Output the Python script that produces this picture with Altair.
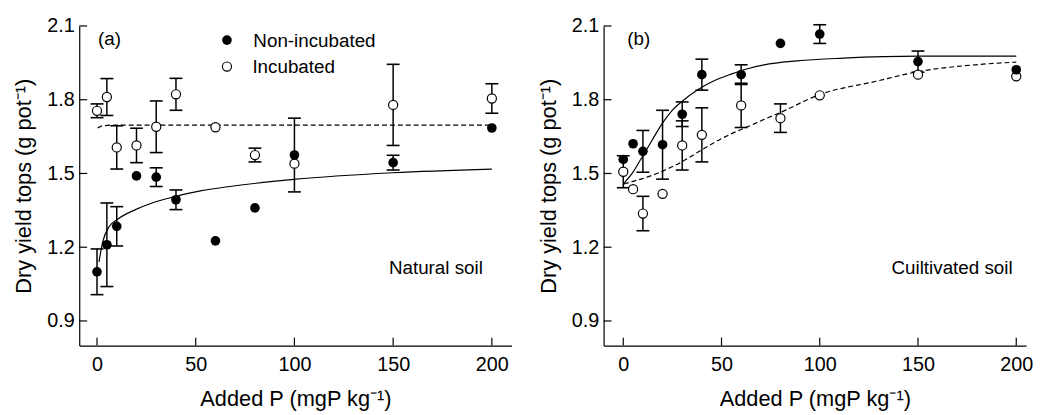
import altair as alt
import pandas as pd

FONT = "Liberation Sans"

# ---------------- data ----------------
added_p = [0, 5, 10, 20, 30, 40, 60, 80, 100, 150, 200]

# Panel (a) natural soil
a_non = [1.100, 1.210, 1.285, 1.490, 1.485, 1.393, 1.226, 1.360, 1.575, 1.544, 1.685]
a_non_err = [0.093, 0.170, 0.080, 0, 0.038, 0.040, 0, 0, 0.150, 0.030, 0]
a_inc = [1.755, 1.811, 1.606, 1.614, 1.690, 1.822, 1.688, 1.575, 1.540, 1.779, 1.805]
a_inc_err = [0.028, 0.075, 0.088, 0.070, 0.105, 0.065, 0, 0.028, 0, 0.165, 0.060]

a_fit_non_x = [1.0, 2.8, 6.2, 10.3, 19.5, 27.9, 39.6, 52.9, 66.3, 99.7, 149.9, 200]
a_fit_non_y = [1.140, 1.219, 1.284, 1.313, 1.353, 1.380, 1.406, 1.430, 1.446, 1.476, 1.503, 1.518]
a_fit_inc_x = [0.3, 2.8, 10, 50, 100, 150, 200]
a_fit_inc_y = [1.685, 1.694, 1.697, 1.697, 1.697, 1.697, 1.697]

# Panel (b) cultivated soil
b_non = [1.557, 1.621, 1.590, 1.617, 1.741, 1.902, 1.902, 2.029, 2.067, 1.955, 1.922]
b_non_err = [0, 0, 0.085, 0.140, 0.050, 0.063, 0.040, 0, 0.038, 0.043, 0]
b_inc = [1.507, 1.436, 1.337, 1.417, 1.614, 1.657, 1.777, 1.725, 1.818, 1.902, 1.895]
b_inc_err = [0.065, 0, 0.070, 0, 0.100, 0.110, 0.090, 0.058, 0, 0, 0]

b_fit_non_x = [0.35, 4.5, 9.6, 14.6, 19.6, 24.7, 29.7, 38.1, 46.5, 54.9, 63.3, 71.7, 88.4, 111.9, 150.5, 200]
b_fit_non_y = [1.460, 1.500, 1.567, 1.634, 1.701, 1.755, 1.792, 1.842, 1.878, 1.904, 1.926, 1.942, 1.958, 1.969, 1.977, 1.977]
b_fit_inc_x = [0.35, 4.5, 12.9, 21.3, 29.7, 38.1, 46.5, 54.9, 63.3, 71.7, 80, 99.3, 128.7, 150.5, 179, 200]
b_fit_inc_y = [1.457, 1.467, 1.487, 1.514, 1.547, 1.587, 1.627, 1.661, 1.690, 1.720, 1.748, 1.819, 1.875, 1.915, 1.942, 1.953]

x_ticks = [0, 50, 100, 150, 200]
y_ticks = [0.9, 1.2, 1.5, 1.8, 2.1]
series_labels = ["Non-incubated", "Incubated"]
panel_tags = ["(a)", "(b)"]
soil_labels = ["Natural soil", "Cuiltivated soil"]

X_TITLE = "Added P (mgP kg⁻¹)"
Y_TITLE = "Dry yield tops (g pot⁻¹)"

H = 323
Y_DOMAIN = [0.8, 2.1]
TXT = 19


def make_panel(y_non, e_non, y_inc, e_inc, fnx, fny, fix, fiy, xdom, width,
               tag, tag_x, soil, soil_x, legend):
    xs = alt.Scale(domain=xdom, nice=False, zero=False)
    ys = alt.Scale(domain=Y_DOMAIN, nice=False, zero=False)
    xaxis = alt.Axis(values=x_ticks, title=X_TITLE, format="d")
    yaxis = alt.Axis(values=y_ticks, title=Y_TITLE, format=".1f")

    def X(field="x"):
        return alt.X(f"{field}:Q", scale=xs, axis=xaxis)

    def Y(field="y"):
        return alt.Y(f"{field}:Q", scale=ys, axis=yaxis)

    pts_non = pd.DataFrame({"x": added_p, "y": y_non, "e": e_non})
    pts_inc = pd.DataFrame({"x": added_p, "y": y_inc, "e": e_inc})
    err = pd.concat([pts_non, pts_inc], ignore_index=True)
    err = err[err["e"] > 0].copy()
    err["lo"] = err["y"] - err["e"]
    err["hi"] = err["y"] + err["e"]

    stems = alt.Chart(err).mark_rule(color="black", strokeWidth=1.5).encode(
        x=X(), y=Y("lo"), y2="hi:Q")
    cap_lo = alt.Chart(err).mark_tick(orient="horizontal", size=13, thickness=1.6,
                                      color="black", opacity=1).encode(x=X(), y=Y("lo"))
    cap_hi = alt.Chart(err).mark_tick(orient="horizontal", size=13, thickness=1.6,
                                      color="black", opacity=1).encode(x=X(), y=Y("hi"))

    fit_non = alt.Chart(pd.DataFrame({"x": fnx, "y": fny})).mark_line(
        color="black", strokeWidth=1.2, interpolate="monotone").encode(x=X(), y=Y())
    fit_inc = alt.Chart(pd.DataFrame({"x": fix, "y": fiy})).mark_line(
        color="black", strokeWidth=1.2, strokeDash=[5, 3], interpolate="monotone").encode(x=X(), y=Y())

    open_pts = alt.Chart(pts_inc).mark_point(
        shape="circle", size=85, filled=True, fill="white", stroke="black",
        strokeWidth=1.2, opacity=1).encode(x=X(), y=Y())
    filled_pts = alt.Chart(pts_non).mark_circle(size=95, color="black", opacity=1).encode(x=X(), y=Y())

    xt = alt.Chart(pd.DataFrame({"x": x_ticks})).mark_rule(color="black", strokeWidth=1.2).encode(
        x=X(), y=alt.value(H), y2=alt.value(H - 8))
    yt = alt.Chart(pd.DataFrame({"y": y_ticks})).mark_rule(color="black", strokeWidth=1.2).encode(
        y=Y(), x=alt.value(0), x2=alt.value(8))

    one = pd.DataFrame({"k": [0]})
    tag_t = alt.Chart(one).mark_text(align="left", baseline="middle", font=FONT, fontSize=TXT,
                                     color="black").encode(
        x=alt.value(tag_x), y=alt.value(13.5), text=alt.value(tag))
    soil_t = alt.Chart(one).mark_text(align="left", baseline="middle", font=FONT, fontSize=TXT,
                                      color="black").encode(
        x=alt.value(soil_x), y=alt.value(244.5), text=alt.value(soil))

    layers = [stems, cap_lo, cap_hi, fit_non, fit_inc, open_pts, filled_pts, xt, yt, tag_t, soil_t]

    if legend:
        lg1 = alt.Chart(one).mark_circle(size=95, color="black", opacity=1).encode(
            x=alt.value(149.3), y=alt.value(14.3))
        lg2 = alt.Chart(one).mark_point(shape="circle", size=85, filled=True, fill="white",
                                        stroke="black", strokeWidth=1.2, opacity=1).encode(
            x=alt.value(149.3), y=alt.value(41))
        lt1 = alt.Chart(one).mark_text(align="left", baseline="middle", font=FONT, fontSize=TXT,
                                       color="black").encode(
            x=alt.value(176), y=alt.value(15), text=alt.value(series_labels[0]))
        lt2 = alt.Chart(one).mark_text(align="left", baseline="middle", font=FONT, fontSize=TXT,
                                       color="black").encode(
            x=alt.value(175), y=alt.value(42), text=alt.value(series_labels[1]))
        layers += [lg1, lg2, lt1, lt2]

    return alt.layer(*layers).properties(width=width, height=H)


panel_a = make_panel(a_non, a_non_err, a_inc, a_inc_err, a_fit_non_x, a_fit_non_y,
                     a_fit_inc_x, a_fit_inc_y, [-9, 210], 437,
                     panel_tags[0], 19, soil_labels[0], 313, True)
panel_b = make_panel(b_non, b_non_err, b_inc, b_inc_err, b_fit_non_x, b_fit_non_y,
                     b_fit_inc_x, b_fit_inc_y, [-10, 205], 427,
                     panel_tags[1], 24, soil_labels[1], 291, False)

chart = alt.hconcat(panel_a, panel_b, spacing=26).properties(
    padding={"left": 5, "top": 6, "right": 0, "bottom": 0}
).configure_view(stroke=None).configure_axis(
    grid=False, ticks=False, tickSize=0, domainColor="black", domainWidth=1.2,
    labelFont=FONT, labelFontSize=20, labelColor="black",
    titleFont=FONT, titleFontSize=22, titleColor="black", titleFontWeight="normal",
    labelOverlap=False
).configure_axisX(labelPadding=9, titlePadding=15).configure_axisY(labelPadding=5, titlePadding=11)

chart.save("out.html", embed_options={"renderer": "svg", "actions": False})
